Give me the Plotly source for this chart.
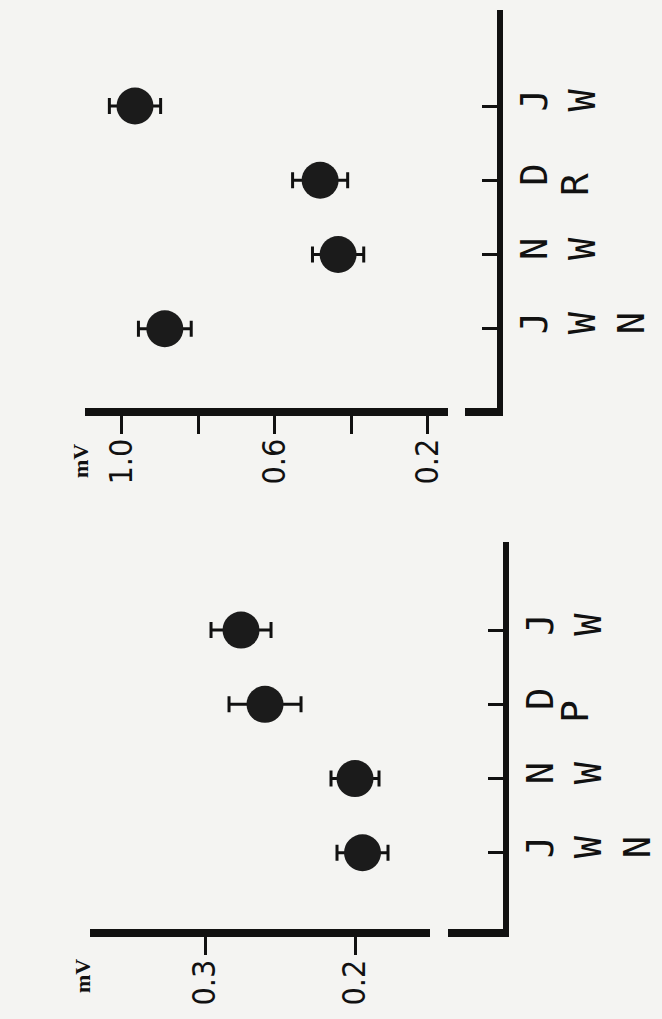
import plotly.graph_objects as go

W, H = 662, 1019

# ---------------- data ----------------
categories = ["J W N", "N W", "D", "J W"]
category_labels = ["J<br>W<br>N", "N<br>W", "D", "J<br>W"]

R_values = [0.888, 0.435, 0.482, 0.966]
R_errors = [0.069, 0.067, 0.072, 0.067]

P_values = [0.195, 0.200, 0.260, 0.276]
P_errors = [0.017, 0.016, 0.024, 0.020]

R_tickvals = [0.2, 0.4, 0.6, 0.8, 1.0]
R_ticktext = ["0.2", "", "0.6", "", "1.0"]
P_tickvals = [0.2, 0.3]
P_ticktext = ["0.2", "0.3"]

panel_titles = ["R", "P"]
unit_label = "mV"

# ---------------- style ----------------
BG = "#f4f4f2"
INK = "#111111"
DOT = "#1b1b1b"
MONO = "DejaVu Sans Mono, Liberation Mono, monospace"
NUM = "DejaVu Sans Condensed, Liberation Sans Narrow, DejaVu Sans, sans-serif"


def px(x):
    return x / W


def py(y):
    return 1 - y / H


fig = go.Figure()

marker = dict(size=37, color=DOT, line=dict(width=0))


def err(vals):
    return dict(type="data", array=vals, visible=True, color=INK, thickness=3, width=8)


fig.add_trace(go.Scatter(x=R_values, y=categories, mode="markers", marker=marker,
                         error_x=err(R_errors), xaxis="x", yaxis="y", showlegend=False))
fig.add_trace(go.Scatter(x=P_values, y=categories, mode="markers", marker=marker,
                         error_x=err(P_errors), xaxis="x2", yaxis="y2", showlegend=False))

value_axis_common = dict(showgrid=False, zeroline=False, showline=True, linecolor=INK,
                         linewidth=8, ticks="outside", ticklen=18, tickwidth=3, tickcolor=INK,
                         tickangle=-90, tickfont=dict(family=NUM, size=32, color=INK),
                         ticklabelstandoff=-8, tickmode="array")
cat_axis_common = dict(showgrid=False, zeroline=False, showline=True, linecolor=INK,
                       linewidth=6, ticks="inside", ticklen=15, tickwidth=2.5, tickcolor=INK,
                       tickangle=-90, side="right", anchor="free", type="category",
                       categoryorder="array", categoryarray=categories,
                       tickmode="array", tickvals=categories, ticktext=category_labels,
                       tickfont=dict(family=MONO, size=37, color=INK))

fig.update_layout(
    width=W, height=H, margin=dict(l=0, r=0, t=0, b=0),
    paper_bgcolor=BG, plot_bgcolor=BG,
    xaxis=dict(domain=[px(85), px(448)], range=[1.0967, 0.1477], anchor="y",
               tickvals=R_tickvals, ticktext=R_ticktext, **value_axis_common),
    yaxis=dict(domain=[py(408), py(10)], range=[-1.067, 4.293], position=px(500),
               **cat_axis_common),
    xaxis2=dict(domain=[px(90), px(430)], range=[0.3767, 0.15], anchor="y2",
                tickvals=P_tickvals, ticktext=P_ticktext, **value_axis_common),
    yaxis2=dict(domain=[py(929), py(542)], range=[-1.027, 4.187], position=px(506),
                **cat_axis_common),
)

# axis-break joining segments
fig.add_shape(type="line", xref="paper", yref="paper", x0=px(465), x1=px(503),
              y0=py(412), y1=py(412), line=dict(color=INK, width=8))
fig.add_shape(type="line", xref="paper", yref="paper", x0=px(448), x1=px(509),
              y0=py(933), y1=py(933), line=dict(color=INK, width=8))

# panel titles and units
for title, (tx, ty) in zip(panel_titles, [(575, 185), (575, 712)]):
    fig.add_annotation(text=title, xref="paper", yref="paper", x=px(tx), y=py(ty),
                       xanchor="center", yanchor="middle",
                       textangle=-90, showarrow=False,
                       font=dict(family=MONO, size=38, color=INK))
for (ux, uy) in [(80, 461), (82, 976)]:
    fig.add_annotation(text="<b>" + unit_label + "</b>", xref="paper", yref="paper",
                       x=px(ux), y=py(uy), xanchor="center", yanchor="middle",
                       textangle=-90, showarrow=False,
                       font=dict(family="Liberation Serif, serif", size=22, color=INK))

fig.write_html("out.html")
